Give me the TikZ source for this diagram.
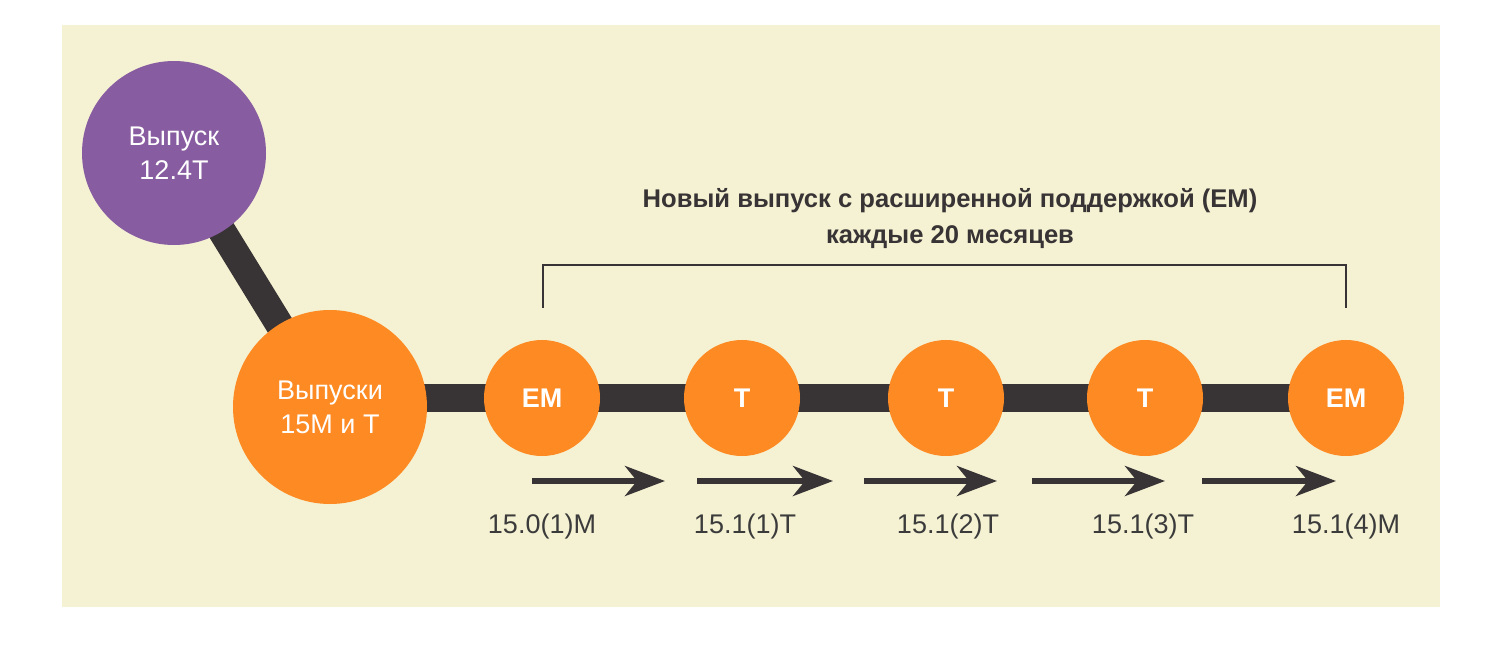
\documentclass[tikz,border=0pt]{standalone}
\usepackage{fontspec}
\setmainfont{Liberation Sans}
\usetikzlibrary{arrows.meta,backgrounds}
\definecolor{panelbg}{HTML}{F5F2D3}
\definecolor{relpurple}{HTML}{875CA0}
\definecolor{relorange}{HTML}{FD8A22}
\definecolor{reldark}{HTML}{383334}
\definecolor{labelgray}{HTML}{3B3B3B}

\begin{document}
\begin{tikzpicture}
    [x = .5pt, y = -.5pt,
     every node/.style = {circle, inner sep = 0pt, text = white, align = center,
                          font = \fontsize{13.5}{17}\selectfont},
     oldrel/.style = {fill = relpurple, minimum size = 92pt},
     mainrel/.style = {fill = relorange, minimum size = 97pt},
     subrel/.style = {fill = relorange, minimum size = 58pt, font = \fontsize{13.5}{17}\selectfont\bfseries},
     vlabel/.style = {rectangle, text = labelgray},
     track/.style = {line width = 14pt, reldark},
     timearrow/.style = {line width = 2.8pt, reldark, -{Stealth[length = 20pt, width = 15pt, inset = 6pt]}}]
    \useasboundingbox (0,0) rectangle (1509,653);

    \node[oldrel]  (r12) at (174,153) {Выпуск\\12.4T};
    \node[mainrel] (r15) at (330,407) {Выпуски\\15M и T};
    \node[subrel]  (s1) at (542,398)  {EM};
    \node[subrel]  (s2) at (742,398)  {T};
    \node[subrel]  (s3) at (946,398)  {T};
    \node[subrel]  (s4) at (1145,398) {T};
    \node[subrel]  (s5) at (1346,398) {EM};

    \node[vlabel] (v1) at (542,527)  {15.0(1)M};
    \node[vlabel] (v2) at (745,527)  {15.1(1)T};
    \node[vlabel] (v3) at (948,527)  {15.1(2)T};
    \node[vlabel] (v4) at (1143,527) {15.1(3)T};
    \node[vlabel] (v5) at (1346,527) {15.1(4)M};

    \node[vlabel, text = reldark, font = \fontsize{12.8}{18}\selectfont\bfseries]
      (title) at (950,219) {Новый выпуск с расширенной поддержкой (EM)\\каждые 20 месяцев};

    % bracket
    \coordinate (bl) at (543,308);
    \coordinate (br) at (1346,308);
    \draw[line width = 1pt, reldark] (bl) -- ++(0,-43) -| (br);

    % arrows between releases
    \foreach \n/\a/\b in {1/532/665, 2/697/833, 3/864/997, 4/1032/1165, 5/1202/1336}
    {
      \coordinate (a\n s) at (\a,481);
      \coordinate (a\n e) at (\b,481);
      \draw[timearrow] (a\n s) -- (a\n e);
    }

    \begin{pgfonlayer}{background}
      \fill[panelbg] (62,25) rectangle (1440,607);
      \draw[track] (r12.center) -- (r15.center);
      \draw[track] (r15.center |- s1.center) -- (s1.center);
      \foreach \from/ \to in {s1/s2,s2/s3,s3/s4,s4/s5}
        \draw[track] (\from.center) -- (\to.center);
    \end{pgfonlayer}
\end{tikzpicture}
\end{document}
